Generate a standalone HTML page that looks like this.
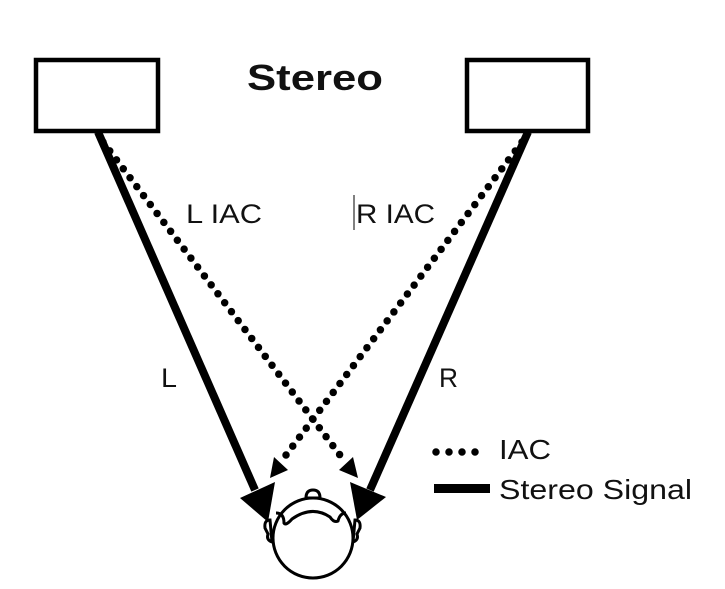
<!DOCTYPE html>
<html><head><style>
body{margin:0;background:#fff;}
svg{display:block;}
text{font-family:"Liberation Sans",sans-serif;fill:#111;}
</style></head><body>
<svg width="725" height="589" viewBox="0 0 725 589">
<rect x="36" y="60" width="122" height="71" fill="none" stroke="#000" stroke-width="4.5"/>
<rect x="467" y="60" width="121" height="71" fill="none" stroke="#000" stroke-width="4.5"/>
<text x="247" y="90" font-size="36" font-weight="bold" fill="#000" textLength="136" lengthAdjust="spacingAndGlyphs">Stereo</text>
<line x1="98" y1="132" x2="255" y2="490" stroke="#000" stroke-width="8"/>
<polygon points="268,522 240,498 275,482" fill="#000"/>
<line x1="528" y1="132" x2="370" y2="490" stroke="#000" stroke-width="8"/>
<polygon points="357,520 350,482 386,497" fill="#000"/>
<line x1="103" y1="142" x2="346" y2="463" stroke="#000" stroke-width="7.5" stroke-linecap="round" stroke-dasharray="0 11.2"/>
<polygon points="358,478 339,470 353,457" fill="#000"/>
<line x1="522" y1="142" x2="280" y2="463" stroke="#000" stroke-width="7.5" stroke-linecap="round" stroke-dasharray="0 11.2"/>
<polygon points="270,478 274,457 288,470" fill="#000"/>
<g fill="#fff" stroke="#000" stroke-width="3">
<path d="M270,520 q-6,0 -5,8 l3,6 q-2,6 4,8 z"/>
<path d="M355,520 q6,0 5,8 l-3,6 q2,6 -4,8 z"/>
<path d="M306,498 q0,-8 7,-8 q7,0 7,8 z"/>
<circle cx="313" cy="538" r="40"/>
</g>
<path d="M276,513 q8,0 8,10 q2,3 8,-4 q20,-14 38,-2 q4,6 8,4 q2,-8 8,-8" fill="none" stroke="#000" stroke-width="3"/>
<text x="186" y="223" font-size="27" textLength="76" lengthAdjust="spacingAndGlyphs">L IAC</text>
<line x1="354" y1="195" x2="354" y2="230" stroke="#000" stroke-width="1"/>
<text x="356" y="223" font-size="27" textLength="79" lengthAdjust="spacingAndGlyphs">R IAC</text>
<text x="161" y="387" font-size="27" textLength="16" lengthAdjust="spacingAndGlyphs">L</text>
<text x="439" y="387" font-size="27" textLength="19" lengthAdjust="spacingAndGlyphs">R</text>
<line x1="436" y1="452" x2="488" y2="452" stroke="#000" stroke-width="7.5" stroke-linecap="round" stroke-dasharray="0 13"/>
<text x="499" y="459" font-size="28" textLength="52" lengthAdjust="spacingAndGlyphs">IAC</text>
<rect x="434" y="484" width="56" height="9" fill="#000"/>
<text x="499" y="499" font-size="28" textLength="193" lengthAdjust="spacingAndGlyphs">Stereo Signal</text>
</svg>
</body></html>
